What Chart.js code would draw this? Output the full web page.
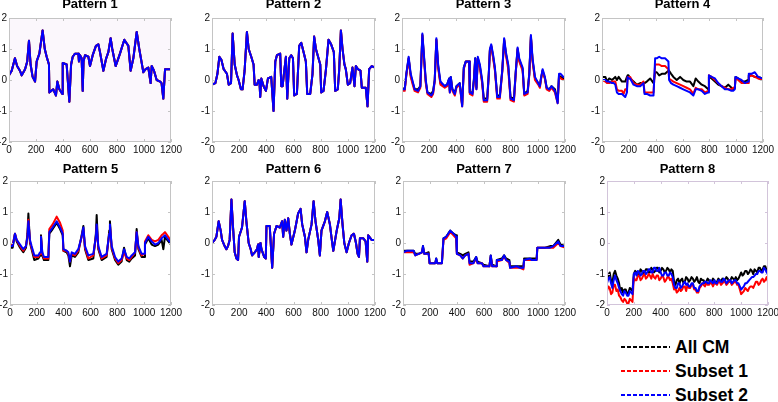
<!DOCTYPE html>
<html>
<head>
<meta charset="utf-8">
<script src="https://cdn.jsdelivr.net/npm/chart.js@4.4.0/dist/chart.umd.min.js"></script>
<style>
body{margin:0;background:#fff;width:778px;height:402px;overflow:hidden;position:relative;font-family:"Liberation Sans",Arial,sans-serif}
canvas{position:absolute}
.leg{position:absolute;left:621px;height:20px;line-height:20px;display:flex;align-items:center;font-weight:bold;font-size:17.5px;color:#000;white-space:nowrap}
.leg .dash{display:inline-block;width:49px;height:1.7px;margin-right:5px}
</style>
</head>
<body>
<canvas id="c1"></canvas><canvas id="c2"></canvas><canvas id="c3"></canvas><canvas id="c4"></canvas>
<canvas id="c5"></canvas><canvas id="c6"></canvas><canvas id="c7"></canvas><canvas id="c8"></canvas>
<div class="leg" style="top:337px"><span class="dash" style="background:repeating-linear-gradient(90deg,#000 0 4px,transparent 4px 6px)"></span>All CM</div>
<div class="leg" style="top:361px"><span class="dash" style="background:repeating-linear-gradient(90deg,#f00 0 4px,transparent 4px 6px)"></span>Subset 1</div>
<div class="leg" style="top:385px"><span class="dash" style="background:repeating-linear-gradient(90deg,#00f 0 4px,transparent 4px 6px)"></span>Subset 2</div>
<script>
// series names, x/y ticks
const seriesNames = ['All CM', 'Subset 1', 'Subset 2'];
const xTickVals = [0, 200, 400, 600, 800, 1000, 1200];
const yTickVals = [-2, -1, 0, 1, 2];

// Pattern 1 (all three series overlap)
const p1x = [0,20,44,60,81,94,119,135,148,160,175,193,205,225,249,265,279,296,299,328,348,358,373,395,398,427,447,460,472,489,514,518,526,538,546,552,563,588,600,620,644,662,674,699,720,736,753,765,790,810,822,854,884,901,921,946,965,983,995,1012,1032,1049,1057,1074,1094,1119,1130,1143,1156,1200];
const p1y = [0.15,0.3,0.7,0.45,0.3,0.15,0.35,0.6,1.27,0.5,0.1,-0.05,0.6,0.85,1.6,1.0,0.75,0.5,-0.4,-0.3,-0.5,-0.05,-0.3,-0.45,0.55,0.5,-0.7,0.5,0.75,0.85,0.85,0.6,0.8,0.7,-0.35,0.6,0.8,0.75,0.45,0.8,1.1,1.15,0.9,0.3,0.7,0.9,1.35,1.0,0.45,0.7,0.85,1.3,1.1,0.3,0.7,1.55,1.0,0.55,0.25,0.35,0.4,-0.1,0.45,0.3,0.0,-0.05,-0.1,-0.6,0.35,0.35];

// Pattern 2
const p2x = [0,25,40,54,69,86,110,123,140,152,167,184,196,213,225,240,257,270,289,306,314,331,343,350,355,363,380,397,412,436,453,466,478,502,510,520,527,544,554,569,583,596,605,625,642,657,674,691,701,723,740,752,765,784,797,804,821,838,858,877,897,907,926,936,949,961,975,985,1000,1017,1034,1049,1059,1074,1093,1103,1132,1145,1157,1176,1200];
const p2y = [-0.15,-0.1,0.2,0.75,0.65,0.35,0.2,-0.15,-0.1,1.5,0.5,0.15,0.0,-0.3,-0.3,0.3,1.55,1.0,0.75,0.5,-0.15,-0.15,0.0,-0.1,-0.55,0.05,-0.2,-0.35,0.05,0.1,-1.0,0.6,0.8,0.85,-0.2,-0.2,0.1,0.75,-0.6,0.7,0.8,0.7,-0.5,-0.45,1.1,1.2,0.9,0.6,-0.45,-0.45,0.2,1.4,1.0,0.7,0.5,-0.4,-0.35,0.3,1.3,1.15,0.9,-0.35,-0.3,0.3,1.6,1.0,0.5,0.35,-0.15,-0.1,0.4,-0.2,0.45,0.35,0.3,-0.25,-0.25,-0.85,0.35,0.45,0.4];

// Pattern 3
const p3x = [0,20,32,49,64,76,93,118,135,150,160,175,187,216,229,241,253,266,283,315,332,347,352,359,371,389,401,425,443,455,470,494,499,519,529,539,548,558,573,590,602,627,639,647,657,671,684,701,720,738,752,765,782,799,824,838,851,863,888,900,925,937,949,961,979,1003,1015,1023,1035,1052,1065,1084,1101,1126,1146,1156,1168,1188,1200];
const p3black = [-0.25,-0.3,0.2,0.7,0.15,-0.05,-0.3,-0.3,-0.2,1.45,0.85,-0.05,-0.4,-0.45,-0.35,0.0,1.3,0.45,-0.1,-0.2,-0.15,0.05,-0.35,0.1,-0.3,-0.4,-0.2,-0.1,-0.8,0.4,0.6,0.6,-0.4,-0.4,0.0,0.7,-0.25,0.7,0.45,-0.05,-0.6,-0.6,0.2,0.95,1.1,0.75,0.35,-0.5,-0.5,0.3,1.3,0.85,0.45,-0.55,-0.6,0.3,1.0,0.65,0.35,-0.45,-0.35,0.2,1.4,0.65,0.05,-0.1,-0.2,0.05,0.3,0.05,-0.25,-0.3,-0.2,-0.3,-0.7,0.15,0.1,0.05,0.05];
const p3red = [-0.35,-0.35,0.15,0.7,0.1,-0.1,-0.35,-0.4,-0.25,1.45,0.8,-0.1,-0.45,-0.55,-0.45,-0.05,1.3,0.4,-0.15,-0.25,-0.2,0.0,-0.4,0.05,-0.35,-0.5,-0.25,-0.15,-0.85,0.35,0.6,0.6,-0.45,-0.5,-0.05,0.65,-0.3,0.7,0.4,-0.1,-0.7,-0.7,0.15,0.95,1.1,0.7,0.3,-0.6,-0.6,0.25,1.3,0.8,0.35,-0.65,-0.7,0.25,1.0,0.6,0.3,-0.5,-0.45,0.15,1.4,0.6,0.0,-0.15,-0.25,0.0,0.3,0.05,-0.3,-0.35,-0.25,-0.4,-0.75,0.1,0.05,0.0,0.0];
const p3blue = [-0.3,-0.3,0.2,0.75,0.2,0.0,-0.3,-0.35,-0.2,1.5,0.9,0.0,-0.4,-0.5,-0.4,0.0,1.35,0.5,-0.05,-0.2,-0.15,0.05,-0.4,0.1,-0.3,-0.45,-0.2,-0.1,-0.85,0.4,0.6,0.6,-0.4,-0.45,0.0,0.7,-0.3,0.75,0.5,0.0,-0.65,-0.65,0.2,1.0,1.15,0.8,0.4,-0.55,-0.55,0.3,1.35,0.9,0.5,-0.6,-0.65,0.3,1.05,0.7,0.4,-0.45,-0.4,0.2,1.45,0.7,0.1,-0.1,-0.2,0.05,0.35,0.1,-0.25,-0.3,-0.2,-0.35,-0.75,0.2,0.2,0.1,0.1];

// Pattern 4
const p4x = [0,25,37,54,74,87,99,111,124,149,161,173,186,191,198,210,235,260,285,309,317,334,359,384,396,408,426,446,470,495,500,515,532,557,582,606,631,656,681,698,718,743,767,792,797,817,842,866,891,916,941,965,978,990,995,1015,1040,1064,1089,1094,1114,1139,1163,1200];
const p4black = [0.1,0.1,-0.05,0.05,0.0,0.05,0.1,0.0,0.1,-0.05,-0.05,-0.05,0.1,0.15,0.15,0.05,-0.05,-0.15,-0.1,-0.1,-0.1,-0.05,0.05,-0.1,0.25,0.25,0.15,0.2,0.2,0.3,0.3,0.2,0.1,0.0,0.1,0.0,-0.05,-0.05,-0.2,0.05,-0.05,-0.15,-0.2,-0.3,0.1,0.05,-0.05,-0.15,-0.2,-0.25,-0.15,-0.25,-0.3,-0.25,0.1,0.05,-0.05,-0.05,0.0,0.15,0.15,0.1,0.1,0.05];
const p4red = [0.0,-0.05,-0.1,-0.1,-0.05,-0.05,-0.05,-0.3,-0.35,-0.35,-0.45,-0.3,-0.3,0.1,0.1,0.1,-0.1,-0.15,-0.15,-0.05,-0.4,-0.4,-0.4,-0.4,0.5,0.5,0.5,0.45,0.45,0.35,0.05,0.0,-0.05,-0.1,-0.15,-0.2,-0.25,-0.3,-0.45,-0.25,-0.3,-0.3,-0.4,-0.35,0.15,0.1,0.0,-0.1,-0.2,-0.25,-0.3,-0.3,-0.25,-0.25,0.05,0.0,-0.1,-0.1,-0.1,0.1,0.15,0.1,0.05,0.0];
const p4blue = [0.0,0.0,-0.05,-0.05,-0.1,-0.1,-0.15,-0.4,-0.45,-0.45,-0.5,-0.55,-0.4,0.1,0.05,0.05,-0.15,-0.2,-0.2,-0.1,-0.45,-0.45,-0.5,-0.5,0.7,0.7,0.75,0.7,0.7,0.6,0.0,-0.1,-0.15,-0.2,-0.25,-0.3,-0.35,-0.4,-0.5,-0.3,-0.3,-0.35,-0.45,-0.4,0.15,0.1,0.05,-0.1,-0.2,-0.3,-0.3,-0.35,-0.35,-0.3,0.1,0.05,0.0,-0.1,-0.05,0.2,0.2,0.25,0.1,0.05];

// Pattern 5
const p5x = [0,20,37,50,75,99,119,130,137,149,161,181,211,224,231,241,253,286,293,318,348,373,393,398,422,435,447,460,484,509,534,547,559,584,621,640,646,658,683,720,740,745,758,783,807,832,850,870,889,907,932,944,957,981,999,1006,1031,1056,1081,1106,1130,1143,1155,1180,1200];
const p5black = [-0.15,-0.15,0.3,0.05,-0.15,-0.3,-0.15,0.3,0.95,0.0,-0.2,-0.55,-0.5,-0.4,0.25,-0.4,-0.55,-0.55,0.3,0.45,0.65,0.45,0.25,-0.25,-0.3,-0.4,-0.75,-0.4,-0.45,-0.3,0.25,0.55,-0.2,-0.55,-0.5,0.3,0.9,-0.2,-0.55,-0.45,0.4,0.7,-0.2,-0.55,-0.7,-0.6,-0.15,-0.55,-0.6,-0.5,-0.4,0.45,-0.2,-0.45,-0.45,-0.05,0.15,-0.05,-0.1,-0.05,0.1,-0.2,0.2,0.05,-0.05];
const p5red = [-0.05,-0.05,0.3,0.1,-0.1,-0.25,-0.1,0.2,0.75,0.05,-0.15,-0.45,-0.45,-0.35,0.2,-0.35,-0.5,-0.5,0.45,0.6,0.85,0.65,0.4,-0.25,-0.25,-0.35,-0.6,-0.35,-0.4,-0.25,0.2,0.45,-0.15,-0.5,-0.4,0.2,0.55,-0.15,-0.5,-0.4,0.3,0.55,-0.15,-0.5,-0.65,-0.55,-0.3,-0.5,-0.55,-0.45,-0.3,0.35,-0.15,-0.4,-0.35,0.05,0.25,0.1,0.05,0.1,0.25,0.3,0.35,0.2,0.05];
const p5blue = [-0.1,-0.1,0.3,0.1,-0.05,-0.2,-0.1,0.2,0.7,0.1,-0.1,-0.4,-0.4,-0.3,0.2,-0.3,-0.45,-0.45,0.35,0.5,0.7,0.5,0.3,-0.2,-0.25,-0.3,-0.6,-0.3,-0.35,-0.2,0.2,0.5,-0.1,-0.4,-0.35,0.2,0.6,-0.1,-0.45,-0.35,0.3,0.6,-0.1,-0.45,-0.6,-0.5,-0.2,-0.45,-0.5,-0.4,-0.3,0.35,-0.1,-0.35,-0.35,0.0,0.2,0.05,-0.05,0.0,0.15,0.2,0.25,0.1,0.0];

// Pattern 6 (all three series overlap)
const p6x = [0,20,32,49,64,74,93,106,118,130,143,155,167,180,192,199,221,241,253,270,285,295,315,332,339,344,357,364,384,396,401,425,443,457,475,499,516,524,536,548,561,573,585,610,634,652,664,684,696,708,733,748,762,782,794,806,831,848,868,885,893,918,937,947,961,974,991,1008,1028,1045,1060,1072,1082,1089,1114,1131,1143,1150,1175,1200];
const p6y = [0.0,0.1,0.2,0.7,0.4,0.1,-0.1,-0.2,-0.1,0.1,1.4,0.5,-0.3,-0.5,-0.55,0.2,0.5,1.35,0.7,0.0,-0.2,-0.4,-0.3,-0.2,-0.05,-0.45,0.0,-0.2,-0.45,-0.5,0.55,0.55,-0.8,0.3,0.55,0.5,0.7,0.2,0.75,0.4,0.8,0.3,-0.05,0.4,0.95,1.1,0.6,0.2,-0.3,0.1,0.6,1.35,0.7,0.1,-0.4,0.4,0.7,1.0,0.6,0.0,-0.25,0.4,0.8,1.4,0.6,0.0,-0.3,0.0,0.25,0.3,0.0,-0.35,-0.45,0.15,0.15,0.05,-0.6,0.25,0.1,0.1];

// Pattern 7
const p7x = [0,30,79,91,116,140,148,158,190,197,239,246,254,288,300,320,350,374,394,399,424,443,461,485,493,522,542,552,584,596,640,650,660,690,695,732,749,764,788,793,842,867,892,897,941,953,990,995,1027,1052,1089,1113,1150,1167,1200];
const p7black = [-0.25,-0.25,-0.25,-0.35,-0.35,-0.3,-0.1,-0.35,-0.3,-0.65,-0.65,-0.5,-0.65,-0.65,0.15,0.2,0.4,0.3,0.25,-0.3,-0.35,-0.4,-0.35,-0.3,-0.6,-0.6,-0.45,-0.6,-0.65,-0.7,-0.75,-0.4,-0.7,-0.75,-0.55,-0.5,-0.4,-0.5,-0.55,-0.75,-0.75,-0.75,-0.75,-0.5,-0.5,-0.5,-0.5,-0.15,-0.15,-0.15,-0.1,-0.1,0.1,-0.05,-0.1];
const p7red = [-0.3,-0.3,-0.3,-0.4,-0.35,-0.3,-0.15,-0.35,-0.35,-0.65,-0.65,-0.55,-0.65,-0.65,0.1,0.15,0.35,0.25,0.15,-0.35,-0.4,-0.5,-0.4,-0.35,-0.7,-0.65,-0.5,-0.65,-0.65,-0.75,-0.75,-0.45,-0.75,-0.75,-0.6,-0.55,-0.45,-0.55,-0.65,-0.8,-0.8,-0.8,-0.85,-0.55,-0.55,-0.55,-0.55,-0.15,-0.15,-0.15,-0.15,-0.15,0.0,-0.1,-0.15];
const p7blue = [-0.3,-0.25,-0.25,-0.4,-0.35,-0.3,-0.1,-0.35,-0.35,-0.65,-0.65,-0.5,-0.65,-0.65,0.15,0.2,0.4,0.3,0.2,-0.35,-0.4,-0.5,-0.4,-0.35,-0.65,-0.65,-0.45,-0.65,-0.65,-0.75,-0.75,-0.4,-0.75,-0.75,-0.55,-0.55,-0.4,-0.55,-0.6,-0.8,-0.75,-0.8,-0.8,-0.55,-0.5,-0.55,-0.55,-0.15,-0.15,-0.15,-0.15,-0.1,0.05,-0.1,-0.1];

// Pattern 8 (noisy, sampled every 10)
const p8x = [0,10,20,30,40,50,60,70,80,90,
  100,110,120,130,140,150,160,170,180,190,
  200,210,220,230,240,250,260,270,280,290,
  300,310,320,330,340,350,360,370,380,390,
  400,410,420,430,440,450,460,470,480,490,
  500,510,520,530,540,550,560,570,580,590,
  600,610,620,630,640,650,660,670,680,690,
  700,710,720,730,740,750,760,770,780,790,
  800,810,820,830,840,850,860,870,880,890,
  900,910,920,930,940,950,960,970,980,990,
  1000,1010,1020,1030,1040,1050,1060,1070,1080,1090,
  1100,1110,1120,1130,1140,1150,1160,1170,1180,1190,
  1200];
const p8black = [-1.2,-1.05,-0.95,-1.2,-1.3,-1.0,-0.9,-1.05,-1.15,-1.3,
  -1.55,-1.45,-1.6,-1.5,-1.5,-1.65,-1.6,-1.45,-1.5,-1.55,
  -1.0,-0.9,-0.95,-1.05,-1.0,-0.85,-0.9,-1.0,-0.95,-0.85,
  -0.85,-0.95,-0.95,-0.8,-0.85,-0.95,-0.9,-0.8,-0.8,-0.95,
  -0.9,-0.8,-0.85,-0.95,-0.9,-0.8,-0.85,-0.95,-0.85,-0.9,
  -1.25,-1.35,-1.2,-1.15,-1.3,-1.2,-1.15,-1.3,-1.25,-1.1,
  -1.15,-1.25,-1.2,-1.1,-1.15,-1.25,-1.2,-1.1,-1.25,-1.3,
  -1.15,-1.2,-1.2,-1.3,-1.25,-1.15,-1.2,-1.3,-1.25,-1.15,
  -1.2,-1.3,-1.25,-1.15,-1.2,-1.25,-1.15,-1.2,-1.2,-1.1,
  -1.15,-1.25,-1.2,-1.1,-1.15,-1.2,-1.1,-1.2,-1.15,-1.05,
  -0.95,-1.05,-1.0,-0.9,-0.9,-1.0,-0.95,-0.85,-0.9,-1.0,
  -0.85,-0.9,-0.95,-0.8,-0.8,-0.9,-0.85,-0.75,-0.75,-0.9,
  -0.85];
const p8red = [-1.55,-1.4,-1.45,-1.65,-1.6,-1.35,-1.35,-1.55,-1.5,-1.7,
  -1.75,-1.85,-1.9,-1.8,-1.85,-1.95,-1.95,-1.8,-1.85,-1.9,
  -1.1,-1.2,-1.2,-1.05,-1.05,-1.2,-1.15,-1.05,-1.0,-1.15,
  -1.1,-1.0,-1.05,-1.15,-1.0,-1.1,-1.15,-1.05,-1.05,-1.2,
  -1.15,-1.05,-1.1,-1.25,-1.2,-1.1,-1.1,-1.2,-1.15,-1.3,
  -1.5,-1.45,-1.6,-1.55,-1.45,-1.55,-1.5,-1.4,-1.4,-1.55,
  -1.35,-1.45,-1.45,-1.35,-1.35,-1.5,-1.5,-1.6,-1.6,-1.45,
  -1.4,-1.3,-1.35,-1.4,-1.3,-1.35,-1.35,-1.25,-1.3,-1.4,
  -1.3,-1.3,-1.35,-1.25,-1.25,-1.35,-1.3,-1.25,-1.25,-1.35,
  -1.3,-1.2,-1.25,-1.35,-1.3,-1.25,-1.25,-1.35,-1.35,-1.5,
  -1.65,-1.6,-1.55,-1.45,-1.5,-1.55,-1.45,-1.4,-1.4,-1.45,
  -1.35,-1.25,-1.25,-1.35,-1.3,-1.2,-1.15,-1.25,-1.2,-1.1,
  -1.25];
const p8blue = [-1.3,-1.15,-1.1,-1.3,-1.45,-1.2,-1.05,-1.2,-1.3,-1.45,
  -1.55,-1.65,-1.7,-1.55,-1.6,-1.7,-1.7,-1.55,-1.6,-1.65,
  -1.0,-0.95,-1.05,-0.9,-0.95,-1.05,-1.0,-0.9,-0.9,-1.0,
  -0.95,-0.85,-0.85,-0.95,-0.95,-0.8,-0.8,-0.9,-0.9,-0.8,
  -0.95,-1.05,-1.05,-0.95,-0.95,-1.05,-1.05,-0.95,-1.0,-1.1,
  -1.35,-1.45,-1.45,-1.3,-1.3,-1.45,-1.4,-1.3,-1.25,-1.35,
  -1.3,-1.4,-1.4,-1.3,-1.3,-1.45,-1.45,-1.55,-1.55,-1.4,
  -1.35,-1.3,-1.3,-1.25,-1.25,-1.3,-1.3,-1.2,-1.25,-1.3,
  -1.2,-1.3,-1.3,-1.2,-1.2,-1.25,-1.25,-1.15,-1.2,-1.3,
  -1.25,-1.2,-1.2,-1.3,-1.25,-1.2,-1.2,-1.3,-1.3,-1.4,
  -1.5,-1.45,-1.4,-1.3,-1.3,-1.25,-1.2,-1.15,-1.1,-1.1,
  -1.05,-1.0,-1.0,-0.9,-0.9,-0.95,-0.95,-0.8,-0.85,-0.95,
  -1.0];

const lineColors = ['#000000', '#ff0000', '#0000ff'];

// plot frame with small inward ticks, optional background
const boxTicks = {
  id: 'boxTicks',
  beforeDatasetsDraw(chart, args, opts) {
    if (!opts.bg) return;
    const a = chart.chartArea;
    chart.ctx.save();
    chart.ctx.fillStyle = opts.bg;
    chart.ctx.fillRect(a.left, a.top, a.width, a.height);
    chart.ctx.restore();
  },
  afterDatasetsDraw(chart, args, opts) {
    const {ctx, chartArea: a, scales} = chart;
    ctx.save();
    ctx.strokeStyle = opts.border || '#c4c4c4';
    ctx.lineWidth = 1;
    ctx.beginPath();
    scales.x.ticks.forEach(t => {
      const px = Math.round(scales.x.getPixelForValue(t.value)) + 0.5;
      ctx.moveTo(px, a.top); ctx.lineTo(px, a.top + 3);
      ctx.moveTo(px, a.bottom); ctx.lineTo(px, a.bottom - 3);
    });
    scales.y.ticks.forEach(t => {
      const py = Math.round(scales.y.getPixelForValue(t.value)) + 0.5;
      ctx.moveTo(a.left, py); ctx.lineTo(a.left + 3, py);
      ctx.moveTo(a.right, py); ctx.lineTo(a.right - 3, py);
    });
    ctx.stroke();
    ctx.strokeRect(a.left + 0.5, a.top + 0.5, a.width - 1, a.height - 1);
    ctx.restore();
  }
};

const rows = [
  {plotTop: 18, canvasTop: -3, padBottom: 5.4},
  {plotTop: 181, canvasTop: 162, padBottom: 3.4}
];
const yAxisW = 24, xAxisH = 16, padRight = 14, plotH = 124, titleLine = 15.6;

function makePanel(id, title, left, right, row, xs, series, extra) {
  const r = rows[row];
  const cv = document.getElementById(id);
  const w = yAxisW + (right - left) + padRight;
  const h = titleLine + r.padBottom + plotH + xAxisH;
  cv.width = w; cv.height = h;
  cv.style.left = (left - yAxisW) + 'px';
  cv.style.top = r.canvasTop + 'px';
  const datasets = series.map((ys, i) => ({
    label: seriesNames[i],
    data: xs.map((x, j) => ({x: x, y: ys[j]})),
    borderColor: lineColors[i],
    borderWidth: 2,
    pointRadius: 0,
    tension: 0,
    borderJoinStyle: 'round',
    order: 3 - i
  }));
  const tickFont = {family: '"Liberation Sans", Arial, sans-serif', size: 10};
  new Chart(cv, {
    type: 'line',
    data: {datasets: datasets},
    options: {
      responsive: false,
      animation: false,
      events: [],
      layout: {padding: {left: 0, top: 0, right: padRight, bottom: 0}},
      plugins: {
        legend: {display: false},
        tooltip: {enabled: false},
        title: {
          display: true, text: title, fullSize: false, color: '#000',
          font: {family: '"Liberation Sans", Arial, sans-serif', size: 13, weight: 'bold', lineHeight: 1.2},
          padding: {top: 0, bottom: r.padBottom}
        },
        boxTicks: extra || {}
      },
      scales: {
        x: {
          type: 'linear', min: 0, max: 1200,
          afterBuildTicks: s => { s.ticks = xTickVals.map(v => ({value: v})); },
          afterFit: s => { s.height = xAxisH; },
          ticks: {font: tickFont, color: '#111', padding: 2, maxRotation: 0, autoSkip: false,
                  callback: v => String(v)},
          grid: {display: false, drawTicks: false},
          border: {display: false}
        },
        y: {
          type: 'linear', min: -2, max: 2,
          afterBuildTicks: s => { s.ticks = yTickVals.map(v => ({value: v})); },
          afterFit: s => { s.width = yAxisW; },
          ticks: {font: tickFont, color: '#111', padding: 2, autoSkip: false,
                  callback: v => String(v)},
          grid: {display: false, drawTicks: false},
          border: {display: false}
        }
      }
    },
    plugins: [boxTicks]
  });
}

makePanel('c1', 'Pattern 1', 9, 171, 0, p1x, [p1y, p1y, p1y], {bg: '#fbf7fc'});
makePanel('c2', 'Pattern 2', 212, 375, 0, p2x, [p2y, p2y, p2y]);
makePanel('c3', 'Pattern 3', 402, 565, 0, p3x, [p3black, p3red, p3blue]);
makePanel('c4', 'Pattern 4', 602, 763, 0, p4x, [p4black, p4red, p4blue]);
makePanel('c5', 'Pattern 5', 10, 171, 1, p5x, [p5black, p5red, p5blue]);
makePanel('c6', 'Pattern 6', 212, 375, 1, p6x, [p6y, p6y, p6y]);
makePanel('c7', 'Pattern 7', 403, 565, 1, p7x, [p7black, p7red, p7blue]);
makePanel('c8', 'Pattern 8', 607, 768, 1, p8x, [p8black, p8red, p8blue], {border: '#d2c4da'});
</script>
</body>
</html>
